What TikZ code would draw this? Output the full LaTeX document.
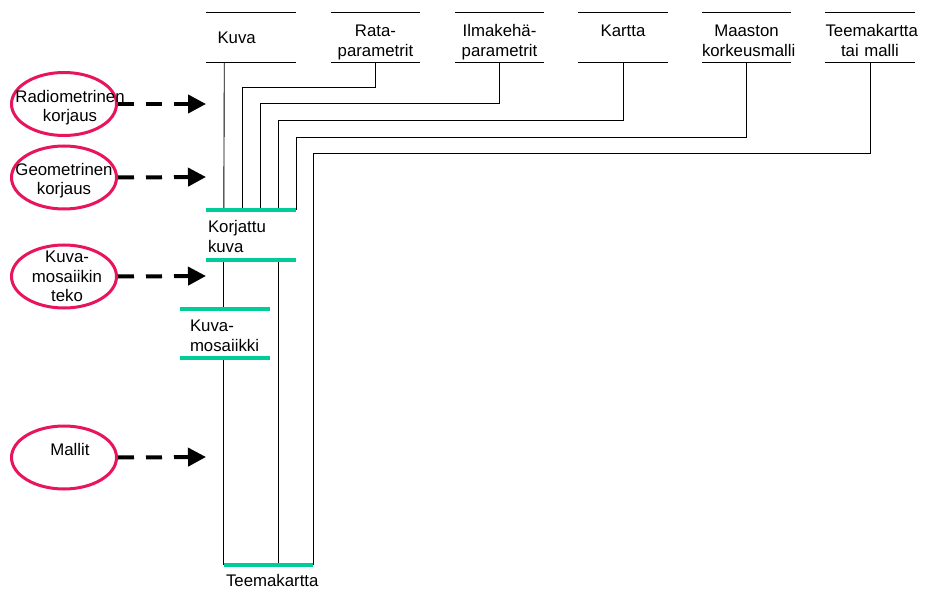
\documentclass[tikz,border=0pt]{standalone}
\usepackage{fontspec}
\setmainfont{Liberation Sans}
\usetikzlibrary{shapes.geometric,arrows.meta}
\definecolor{gline}{RGB}{0,204,153}
\definecolor{pinkred}{RGB}{232,20,92}
\begin{document}
\begin{tikzpicture}[x=1pt,y=-1pt,
  font=\fontsize{16.8}{19.5}\selectfont,
  topbox/.style={minimum height=49pt, inner sep=0pt, text width=89pt, align=center},
  twoline/.style={text height=22pt, text depth=23pt},
  gbox/.style={inner ysep=0pt, align=left},
  boxline/.style={draw=black, line width=0.9pt},
  greenline/.style={draw=gline, line width=3.5pt},
  conn/.style={draw=black, line width=0.9pt},
  oval/.style={ellipse, draw=pinkred, line width=3pt, minimum width=105pt, minimum height=63pt, inner sep=0pt},
  lbl/.style={align=center, inner sep=0pt},
  dasharrow/.style={line width=4pt, dash pattern=on 16pt off 12pt, -{Triangle[length=18pt,width=18pt]}}
]
\useasboundingbox (0,0) rectangle (929,612);

% top boxes
\node[topbox, align=left] (kuva) at (251,37.5) {\hspace*{11pt}Kuva};
\node[topbox, twoline] (rata) at (375.5,37.5) {Rata-\\parametrit};
\node[topbox, twoline] (ilma) at (499.5,37.5) {Ilmakehä-\\parametrit};
\node[topbox, twoline] (kartta) at (623,37.5) {Kartta\\\strut};
\node[topbox, twoline] (maast) at (746.5,37.5) {Maaston\\korkeusmalli};
\node[topbox, twoline] (teema) at (870,37.5) {Teemakartta\\tai malli};
\foreach \n in {kuva,rata,ilma,kartta,maast,teema}{
  \draw[boxline] (\n.north west) -- (\n.north east);
  \draw[boxline] (\n.south west) -- (\n.south east);
}

% data stores
\node[gbox, minimum height=50pt, inner xsep=2pt, text width=86pt, text height=16pt, text depth=20pt] (korj) at (251,235) {Korjattu\\kuva};
\node[gbox, minimum height=49pt, inner xsep=10pt, text width=70pt, text height=16pt, text depth=20pt] (km) at (225,333.5) {Kuva-\\mosaiikki};
\node[gbox, minimum height=30pt, inner xsep=2pt, text width=85pt] (tk) at (268.5,580) {Teemakartta};

% connectors
\draw[conn] ([xshift=18pt]kuva.south west) -- ([xshift=18pt]korj.north west);
\draw[conn] (rata.south) -- ++(0,25) -| ([xshift=-9pt]korj.north);
\draw[conn] (ilma.south) -- ++(0,41) -| ([xshift=9pt]korj.north);
\draw[conn] (kartta.south) -- ++(0,58) -| ([xshift=27pt]korj.north);
\draw[conn] (maast.south) -- ++(0,75) -| (korj.north east);
\draw[conn] (teema.south) -- ++(0,91) -| (tk.north east);
\draw[conn] ([xshift=18pt]korj.south west) -- ([xshift=18pt]korj.south west |- km.north);
\draw[conn] ([xshift=27pt]korj.south) -- ([xshift=27pt]korj.south |- tk.north);
\draw[conn] (tk.north west |- km.south) -- (tk.north west);

% green lines
\draw[greenline] (korj.north west) -- (korj.north east);
\draw[greenline] (korj.south west) -- (korj.south east);
\draw[greenline] (km.north west) -- (km.north east);
\draw[greenline] (km.south west) -- (km.south east);
\draw[greenline] (tk.north west) -- (tk.north east);

% process ovals
\node[oval] (e1) at (64,104) {};
\node[oval] (e2) at (64,177.5) {};
\node[oval] (e3) at (64,276.5) {};
\node[oval] (e4) at (64,457.5) {};
\node[lbl] (t1) at (70,107.5) {Radiometrinen\\korjaus};
\node[lbl] (t2) at (64,180.5) {Geometrinen\\korjaus};
\node[lbl] (t3) at (67,276.5) {Kuva-\\mosaiikin\\teko};
\node[lbl] (t4) at (70,449) {Mallit};

\coordinate (a1) at (206,104);
\coordinate (a2) at (206,177);
\coordinate (a3) at (206,276);
\coordinate (a4) at (206,457);
\draw[dasharrow] (e1.east) -- (a1);
\draw[dasharrow] (e2.east) -- (a2);
\draw[dasharrow] (e3.east) -- (a3);
\draw[dasharrow] (e4.east) -- (a4);
\end{tikzpicture}
\end{document}
